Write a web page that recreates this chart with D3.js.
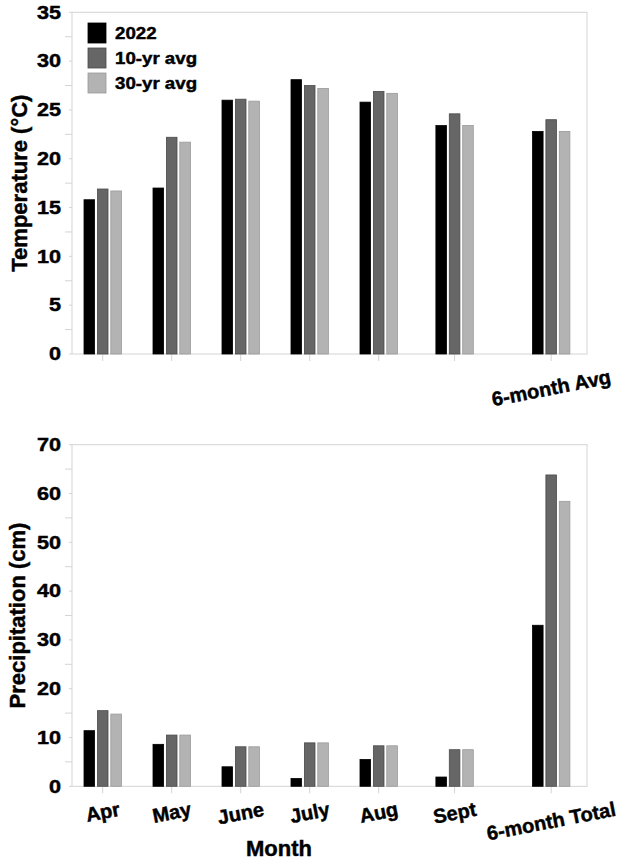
<!DOCTYPE html>
<html><head><meta charset="utf-8">
<script src="https://cdn.jsdelivr.net/npm/d3@7"></script>
<style>
body{margin:0;background:#fff}
svg{display:block}
text{font-family:"Liberation Sans",Arial,Helvetica,sans-serif;font-weight:bold;fill:#000;stroke:#000;stroke-width:0.45px}
</style>
</head><body>
<svg id="chart" width="624" height="862"></svg>
<script>
// ---------- DATA ----------
const months = ["Apr", "May", "June", "July", "Aug", "Sept"];
const tempCategories = [...months, "6-month Avg"];
const precipCategories = [...months, "6-month Total"];
const seriesNames = ["2022", "10-yr avg", "30-yr avg"];

const temp2022 = [15.8, 17.0, 26.0, 28.1, 25.8, 23.4, 22.8];
const temp10yr = [16.9, 22.2, 26.1, 27.5, 26.9, 24.6, 24.0];
const temp30yr = [16.7, 21.7, 25.9, 27.2, 26.7, 23.4, 22.8];

const precip2022 = [11.4, 8.6, 4.0, 1.6, 5.5, 1.9, 33.0];
const precip10yr = [15.5, 10.5, 8.1, 8.9, 8.3, 7.5, 63.8];
const precip30yr = [14.8, 10.5, 8.1, 8.9, 8.3, 7.5, 58.4];

const tempTicks = [0, 5, 10, 15, 20, 25, 30, 35];
const precipTicks = [0, 10, 20, 30, 40, 50, 60, 70];

// ---------- LAYOUT / STYLE ----------
const slotPos = [0, 1, 2, 3, 4, 5.1, 6.5];   // category slot positions (irregular as in original)
const fills = ["#000000", "#666666", "#b3b3b3"];
const strokes = ["#000000", "#4a4a4a", "#9a9a9a"];
const axisGray = "#d4d4d4";
const plotL = 72, plotR = 587;
const barStep = 13.4, barW = 10.6;

const svg = d3.select("#chart");

const x = d3.scaleLinear().domain([-0.445, 7.019]).range([plotL, plotR]);

function drawPanel(cfg) {
  const y = d3.scaleLinear().domain([0, cfg.max]).range([cfg.bottom, cfg.top]);
  const g = svg.append("g");

  // frame
  g.append("rect")
    .attr("x", plotL).attr("y", cfg.top)
    .attr("width", plotR - plotL).attr("height", cfg.bottom - cfg.top)
    .attr("fill", "none").attr("stroke", axisGray).attr("stroke-width", 1);

  // minor y ticks (long) and major y ticks (short)
  const minor = d3.range(cfg.step / 2, cfg.max, cfg.step);
  g.selectAll(".ymin").data(minor).join("line")
    .attr("x1", plotL - 7).attr("x2", plotL)
    .attr("y1", d => y(d)).attr("y2", d => y(d))
    .attr("stroke", axisGray).attr("stroke-width", 1);
  g.selectAll(".ymaj").data(cfg.ticks).join("line")
    .attr("x1", plotL - 3).attr("x2", plotL)
    .attr("y1", d => y(d)).attr("y2", d => y(d))
    .attr("stroke", axisGray).attr("stroke-width", 1);

  // y tick labels
  g.selectAll(".ylab").data(cfg.ticks).join("text")
    .attr("transform", d => `translate(61,${y(d)}) scale(1.2,1)`)
    .attr("text-anchor", "end").attr("dy", "0.35em")
    .style("font-size", "18px")
    .text(d => d);

  // x ticks
  g.selectAll(".xt").data(slotPos).join("line")
    .attr("x1", d => x(d)).attr("x2", d => x(d))
    .attr("y1", cfg.bottom).attr("y2", cfg.bottom + 7)
    .attr("stroke", axisGray).attr("stroke-width", 1);

  // bars
  const series = cfg.series;
  series.forEach((vals, si) => {
    g.selectAll(".b" + si).data(vals).join("rect")
      .attr("x", (d, i) => x(slotPos[i]) + (si - 1) * barStep - barW / 2)
      .attr("width", barW)
      .attr("y", d => y(d))
      .attr("height", d => y(0) - y(d))
      .attr("fill", fills[si])
      .attr("stroke", strokes[si]).attr("stroke-width", 0.8);
  });

  // x labels (rotated, bbox top aligned below axis)
  const ang = 11, rad = ang * Math.PI / 180;
  cfg.labels.forEach((lab, i) => {
    if (!lab) return;
    const t = g.append("text")
      .attr("text-anchor", "middle").attr("dy", "0.35em")
      .style("font-size", "20px")
      .text(lab);
    const w = t.node().getComputedTextLength();
    const half = (w * Math.sin(rad) + 15 * Math.cos(rad)) / 2;
    t.attr("transform", `translate(${x(slotPos[i])},${cfg.bottom + 15 + half}) rotate(${-ang})`);
  });

  // y title
  g.append("text")
    .attr("transform", `translate(${cfg.titleX},${(cfg.top + cfg.bottom) / 2}) rotate(-90)`)
    .attr("text-anchor", "middle")
    .style("font-size", "22px")
    .text(cfg.title);
  return y;
}

drawPanel({
  top: 12.3, bottom: 354, max: 35, step: 5, ticks: tempTicks,
  series: [temp2022, temp10yr, temp30yr],
  labels: tempCategories.map((c, i) => i === tempCategories.length - 1 ? c : ""),
  title: "Temperature (°C)", titleX: 27
});

drawPanel({
  top: 444.7, bottom: 786.3, max: 70, step: 10, ticks: precipTicks,
  series: [precip2022, precip10yr, precip30yr],
  labels: precipCategories,
  title: "Precipitation (cm)", titleX: 25
});

// x title
svg.append("text")
  .attr("x", 279).attr("y", 856)
  .attr("text-anchor", "middle")
  .style("font-size", "22px")
  .text("Month");

// legend
const leg = svg.append("g");
seriesNames.forEach((name, i) => {
  leg.append("rect")
    .attr("x", 88).attr("y", 23 + i * 25)
    .attr("width", 18).attr("height", 20)
    .attr("fill", fills[i]).attr("stroke", strokes[i]).attr("stroke-width", 0.8);
  leg.append("text")
    .attr("transform", `translate(115,${39 + i * 25}) scale(1.1,1)`)
    .style("font-size", "17px")
    .text(name);
});
</script>
</body></html>
